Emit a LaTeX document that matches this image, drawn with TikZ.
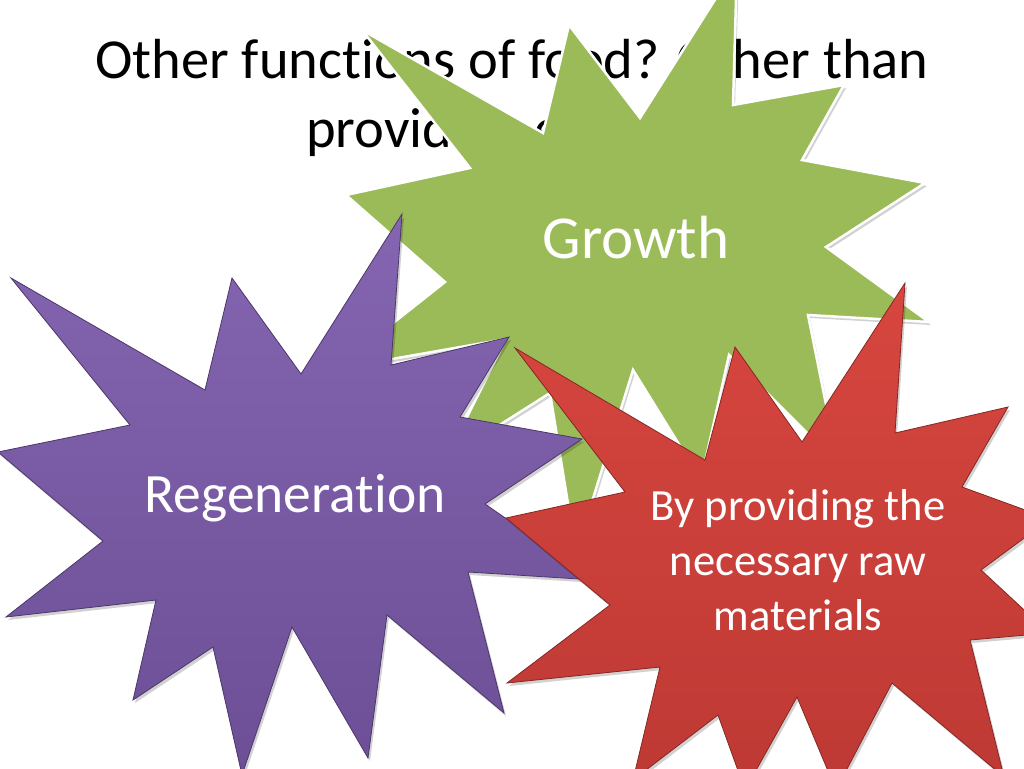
\documentclass[tikz,border=0pt]{standalone}
\usepackage{fontspec}
\setmainfont{Carlito}[Ligatures=CommonOff]
\usepackage{tikz}
\definecolor{grow}{HTML}{9BBB59}
\definecolor{regtop}{HTML}{8565B1}
\definecolor{regbot}{HTML}{6C4F96}
\definecolor{rawtop}{HTML}{D7463F}
\definecolor{rawbot}{HTML}{BE3934}
\newcommand{\growpath}{(737,-35) -- (733,105) -- (844,85) -- (802,160)
  -- (925,183) -- (826,247) -- (929,322) -- (808,315) -- (838,464)
  -- (729,355) -- (701,480) -- (633,370) -- (576,553) -- (550,393)
  -- (446,459) -- (506,339) -- (335,369) -- (445,282) -- (346,195)
  -- (470,168) -- (362,30) -- (543,133) -- (569,25) -- (640,118) -- cycle}
\newcommand{\regpath}{(402,214) -- (391,365) -- (509,337) -- (460,417)
  -- (582,439) -- (485,504) -- (595,580) -- (468,572) -- (504,713)
  -- (387,615) -- (368,758) -- (292,627) -- (242,775) -- (213,647)
  -- (133,700) -- (156,600) -- (6,617) -- (103,541) -- (-2,452)
  -- (130,425) -- (11,278) -- (205,390) -- (232,278) -- (301,374) -- cycle}
\newcommand{\rawpath}{(515,348) -- (705,460) -- (735,347) -- (802,442)
  -- (905,283) -- (895,433) -- (1008,407) -- (962,487) -- (1050,519)
  -- (981,570) -- (1049,633) -- (970,640) -- (1004,777) -- (892,683)
  -- (836,790) -- (797,697) -- (745,790) -- (718,715) -- (633,780)
  -- (660,667) -- (507,683) -- (610,605) -- (506,518) -- (625,492) -- cycle}
\tikzset{
  burst/.style = {line join=miter},
  shade/.style = {fill=black, opacity=0.18},
  word/.style = {text=white, inner sep=0pt, anchor=base},
}

\begin{document}
\begin{tikzpicture}[
    x=1pt, y=-1pt,
    head/.style={font=\fontsize{56.5}{68}\selectfont, inner sep=0pt, anchor=base},
    ]
    \useasboundingbox (0,0) rectangle (1024,768);
    \clip (0,0) rectangle (1024,768);
    \fill[white] (0,0) rectangle (1024,768);
    % title
    \node[head] (title1) at (512,78) {Other functions of food? Other than};
    \node[head] (title2) at (512,147) {providing energy?};
    % green burst
    \fill[shade, shift={(2,3)}] \growpath;
    \filldraw[burst, fill=grow, draw=white, line width=2.5pt] \growpath;
    \node[word, font=\fontsize{61}{70}\selectfont] (growth) at (636,258) {Growth};
    % purple burst
    \fill[shade, shift={(2,3)}] \regpath;
    \path[burst, top color=regtop, bottom color=regbot, draw=regbot!70!black,
      line width=0.8pt] \regpath;
    \node[word, font=\fontsize{55.5}{66}\selectfont] (regen) at (295,512)
    {Regeneration};
    % red burst
    \fill[shade, shift={(2,3)}] \rawpath;
    \path[burst, top color=rawtop, bottom color=rawbot, draw=rawbot!70!black,
      line width=0.8pt] \rawpath;
    \node[word, font=\fontsize{44.6}{54}\selectfont] (raw1) at (798,520)
    {By providing the};
    \node[word, font=\fontsize{44.6}{54}\selectfont] (raw2) at (798,575)
    {necessary raw};
    \node[word, font=\fontsize{44.6}{54}\selectfont] (raw3) at (798,630)
    {materials};
  \end{tikzpicture}
\end{document}
